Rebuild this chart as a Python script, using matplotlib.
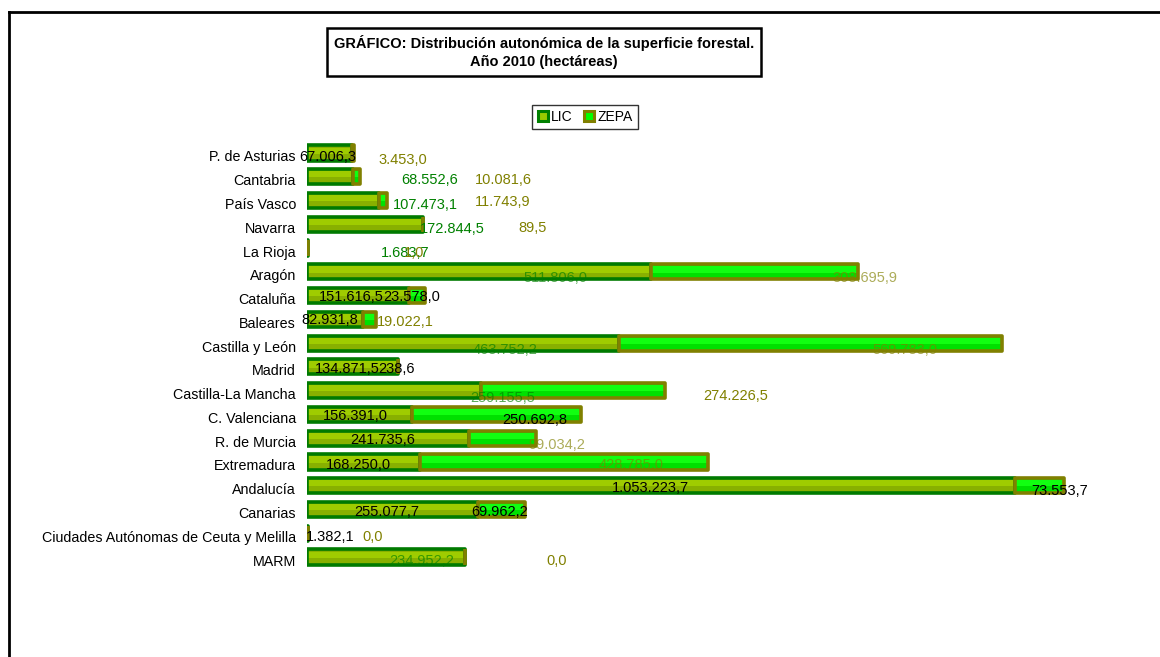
"""
Distribución autonómica de la superficie forestal (LIC / ZEPA), año 2010.
"""
import numpy as np
import matplotlib
matplotlib.use('Agg')
import matplotlib.pyplot as plt
from matplotlib.lines import Line2D
from matplotlib.transforms import ScaledTranslation

plt.rcParams['font.family'] = ['Liberation Sans', 'DejaVu Sans']

# --- data -------------------------------------------------------------
regiones = ['P. de Asturias', 'Cantabria', 'País Vasco', 'Navarra', 'La Rioja',
            'Aragón', 'Cataluña', 'Baleares', 'Castilla y León', 'Madrid',
            'Castilla-La Mancha', 'C. Valenciana', 'R. de Murcia', 'Extremadura',
            'Andalucía', 'Canarias', 'Ciudades Autónomas de Ceuta y Melilla', 'MARM']

lic = [67006.3, 68552.6, 107473.1, 172844.5, 1683.7,
       511806.0, 151616.5, 82931.8, 463752.2, 134871.5,
       259155.5, 156391.0, 241735.6, 168250.0,
       1053223.7, 255077.7, 1382.1, 234952.2]

zepa = [3453.0, 10081.6, 11743.9, 89.5, 1.0,
        308695.9, 23578.0, 19022.1, 569783.0, 238.6,
        274226.5, 250692.8, 99034.2, 428785.0,
        73553.7, 69962.2, 0.0, 0.0]

# where the (badly placed) data labels sit, in hectares along the axis
lic_lab_x = [31250, 183000, 175600, 215800, 145800, 369000, 65500, 34200, 294600,
             59500, 291650, 71400, 113100, 75900, 510400, 119000, 34200, 171100]
zepa_lab_x = [142850, 291650, 291650, 336300, 160000, 830300, 156500, 145800, 889800,
              133500, 638350, 339250, 372000, 482100, 1120500, 286000, 98200, 372000]
# vertical drop of each label below the bar centre, in pixels
lic_lab_dy = [4, 3, 4.5, 5, 5, 6, 1.5, 1, 7, 2, 7, 1.5, 2, 3, 2.5, 2.5, 4, 4]
zepa_lab_dy = [7, 3, 1.5, 4, 5, 6, 1.5, 3, 7, 2, 5, 5.5, 7, 3, 5.5, 2.5, 4, 4]
lic_lab_col = ['black', 'green', 'green', 'green', 'green', 'green', 'black', 'black',
               'green', 'black', 'green', 'black', 'black', 'black', 'black', 'black',
               'black', 'green']
zepa_lab_col = ['olive', 'olive', 'olive', 'olive', 'olive', 'olive', 'black', 'olive',
                'olive', 'black', 'olive', 'black', 'olive', 'olive', 'black', 'black',
                'olive', 'olive']
faded_lic = {5, 8, 10, 17}
faded_zepa = {5, 8, 12, 13}


def es_num(v):
    s = f'{v:,.1f}'
    return s.replace(',', 'X').replace('.', ',').replace('X', '.')


# --- figure -----------------------------------------------------------
W, H = 1160, 657
fig = plt.figure(figsize=(W / 100, H / 100), dpi=100)
ax = fig.add_axes([307 / W, 1 - 568.9 / H, 793 / W, (568.9 - 141.1) / H])

y = np.arange(len(regiones))
lic = np.array(lic)
zepa = np.array(zepa)
h = 0.64
lw = 2.6

# LIC segments: fill, top highlight, then outline
ax.barh(y, lic, height=h, color='#88B000', linewidth=0, zorder=2)
ax.barh(y - 0.1, lic, height=0.26, color='#9FCC00', linewidth=0, zorder=2.1)
ax.barh(y, lic, height=h, fill=False, edgecolor='#007A00', linewidth=lw,
        joinstyle='round', zorder=2.2)

# ZEPA segments stacked on top
ax.barh(y, zepa, left=lic, height=h, color='#00E000', linewidth=0, zorder=2.3)
ax.barh(y - 0.1, zepa, left=lic, height=0.26, color='#11FF11', linewidth=0, zorder=2.4)
ax.barh(y, zepa, left=lic, height=h, fill=False, edgecolor='#808000', linewidth=lw,
        joinstyle='round', zorder=2.5)

colmap = {'green': '#008000', 'olive': '#808000', 'black': 'black'}
for i in range(len(regiones)):
    ax.annotate(es_num(lic[i]), (lic_lab_x[i], y[i]),
                xytext=(0, -lic_lab_dy[i] * 0.72), textcoords='offset points',
                ha='center', va='center', fontsize=10.5,
                color=colmap[lic_lab_col[i]],
                alpha=0.65 if i in faded_lic else 1, zorder=3)
    ax.annotate(es_num(zepa[i]), (zepa_lab_x[i], y[i]),
                xytext=(0, -zepa_lab_dy[i] * 0.72), textcoords='offset points',
                ha='center', va='center', fontsize=10.5,
                color=colmap[zepa_lab_col[i]],
                alpha=0.65 if i in faded_zepa else 1, zorder=3)

ax.set_xlim(0, 793 * 1488)
ax.set_ylim(len(regiones) - 0.5, -0.5)
ax.set_yticks(y, regiones, fontsize=10.3)
ax.set_xticks([])
ax.tick_params(axis='y', length=0, pad=8)
for lbl in ax.get_yticklabels():
    lbl.set_transform(lbl.get_transform() + ScaledTranslation(0, -3 / 100, fig.dpi_scale_trans))
for s in ax.spines.values():
    s.set_visible(False)

# title box
fig.text(544 / W, 1 - 52 / H,
         'GRÁFICO: Distribución autonómica de la superficie forestal.\nAño 2010 (hectáreas)',
         ha='center', va='center', fontsize=10.5, fontweight='bold', linespacing=1.3,
         bbox=dict(boxstyle='square,pad=0.5', facecolor='white', edgecolor='black',
                   linewidth=1.8))

# legend
handles = [
    Line2D([], [], marker='s', ls='', markersize=6.5, markerfacecolor='#99CC00',
           markeredgecolor='#008000', markeredgewidth=2.2, label='LIC'),
    Line2D([], [], marker='s', ls='', markersize=6.5, markerfacecolor='#00FF00',
           markeredgecolor='#808000', markeredgewidth=2.2, label='ZEPA'),
]
leg = fig.legend(handles=handles, loc='center', bbox_to_anchor=(585 / W, 1 - 117 / H),
                 ncol=2, frameon=True, fancybox=False, edgecolor='black',
                 handlelength=0.8, handletextpad=0.2, columnspacing=0.8,
                 borderpad=0.35, borderaxespad=0, fontsize=10)
leg.get_frame().set_linewidth(1)

# outer frame (only top and left edges are visible)
fig.add_artist(Line2D([9 / W, 1], [1 - 12 / H, 1 - 12 / H], color='black', lw=2))
fig.add_artist(Line2D([9 / W, 9 / W], [1 - 12 / H, 0], color='black', lw=2))

fig.savefig('out.png', dpi=100)
